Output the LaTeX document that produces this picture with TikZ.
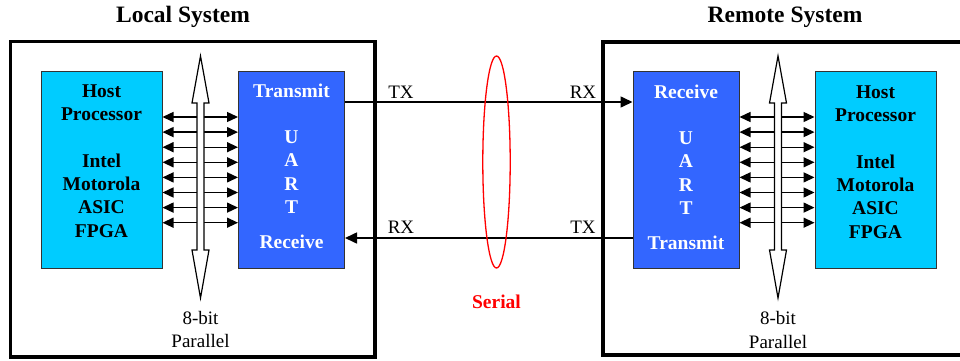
\documentclass[tikz,border=0pt]{standalone}
\usepackage{fontspec}
\setmainfont{Liberation Serif}
\usetikzlibrary{arrows.meta}
\definecolor{hostcyan}{HTML}{00CCFF}
\definecolor{uartblue}{HTML}{3366FF}
\definecolor{edgegray}{HTML}{333333}

% hollow vertical double-headed bus arrow centred at x = #1
\newcommand\drawbus[1]{%
  \draw[busarrow] (#1,56) -- (#1+8.5,103) -- (#1+3.5,103) -- (#1+3.5,250)
    -- (#1+8.5,250) -- (#1,298) -- (#1-8.5,250) -- (#1-3.5,250)
    -- (#1-3.5,103) -- (#1-8.5,103) -- cycle;}

\begin{document}
\begin{tikzpicture}[x=1pt,y=-1pt,
  sysframe/.style={draw=black,line width=3.5pt},
  hostbox/.style={draw=edgegray,line width=1pt,fill=hostcyan,
    minimum width=121pt,minimum height=197pt,inner sep=0pt},
  uartbox/.style={draw=edgegray,line width=1pt,fill=uartblue,
    minimum width=106pt,minimum height=197pt,inner sep=0pt},
  boxtext/.style={font=\fontsize{19.5}{23.3}\selectfont\bfseries,
    align=center,inner sep=0pt},
  uarttext/.style={boxtext,text=white},
  title/.style={font=\fontsize{23.5}{26}\selectfont\bfseries,inner sep=0pt},
  plain/.style={font=\fontsize{19}{22}\selectfont,inner sep=0pt},
  busarrow/.style={draw=black,fill=white,line width=1.2pt,line join=miter},
  biarrow/.style={line width=1.4pt,{Triangle[length=11pt,width=10pt]}-{Triangle[length=11pt,width=10pt]}},
  serialline/.style={line width=1.6pt,-{Triangle[length=12pt,width=11pt]}},
]
\fill[white] (0,0) rectangle (960,361);
\useasboundingbox (0,0) rectangle (960,361);

% system frames
\draw[sysframe] (10.5,41.5) rectangle (375,357);
\draw[sysframe] (603,42) rectangle (990,355);

\node[title] (ltitle) at (183,17) {Local System};
\node[title] (rtitle) at (785,17) {Remote System};

% local side
\node[hostbox] (lhost) at (101.5,169.5) {};
\node[uartbox] (luart) at (291.5,169.5) {};
\node[boxtext,anchor=north] (lhtxt) at (101.5,84.5)
  {Host\\Processor\\[23.3pt]Intel\\Motorola\\ASIC\\FPGA};
\node[uarttext] (lutop) at (291.5,91) {Transmit};
\node[uarttext,anchor=north] (luletters) at (291.5,130.5) {U\\A\\R\\T};
\node[uarttext] (lubot) at (291.5,242) {Receive};

% remote side
\node[uartbox] (ruart) at (686,170) {};
\node[hostbox] (rhost) at (875.5,170) {};
\node[boxtext,anchor=north] (rhtxt) at (875.5,85.5)
  {Host\\Processor\\[23.3pt]Intel\\Motorola\\ASIC\\FPGA};
\node[uarttext] (rutop) at (686,92) {Receive};
\node[uarttext,anchor=north] (ruletters) at (686,131.5) {U\\A\\R\\T};
\node[uarttext] (rubot) at (686,243) {Transmit};

% 8-bit parallel data lines
\foreach \k in {0,...,7}{
  \pgfmathsetmacro\yy{117+15.1*\k}
  \draw[biarrow] (lhost.east |- 0,\yy) -- (luart.west |- 0,\yy);
  \draw[biarrow] (ruart.east |- 0,\yy) -- (rhost.west |- 0,\yy);
}
\drawbus{200.5}
\drawbus{778}

\node[plain] (lbits) at (200.5,318) {8-bit};
\node[plain] (lpar) at (200.5,341) {Parallel};
\node[plain] (rbits) at (778,318) {8-bit};
\node[plain] (rpar) at (778,342) {Parallel};

% serial link
\draw[serialline] (luart.east |- 0,102) -- (ruart.west |- 0,102);
\draw[serialline] (ruart.west |- 0,238) -- (luart.east |- 0,238);
\node[plain] (tx1) at (401,92) {TX};
\node[plain] (rx1) at (583,92) {RX};
\node[plain] (rx2) at (401,227) {RX};
\node[plain] (tx2) at (583,227) {TX};

\draw[red,line width=1.3pt] (496.5,162) ellipse [x radius=13.7,y radius=106];
\node[plain,font=\fontsize{19.5}{22}\selectfont\bfseries,text=red] (serial) at (496.5,302) {Serial};
\end{tikzpicture}
\end{document}
